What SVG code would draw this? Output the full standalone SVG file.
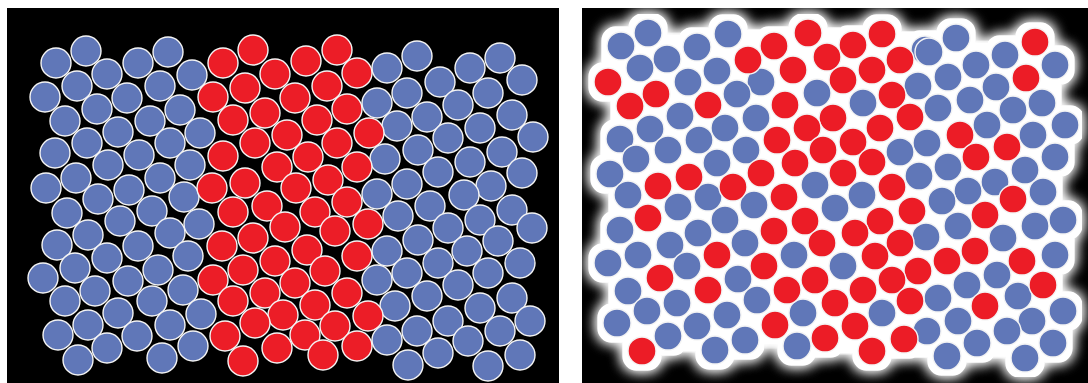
<svg xmlns="http://www.w3.org/2000/svg" width="1088" height="383" viewBox="0 0 1088 383">
<style>
.b{fill:#6077b8;stroke:#f4f4f4;stroke-width:1.4}
.r{fill:#ec1d27;stroke:#f4f4f4;stroke-width:1.4}
#left circle{r:15px}
#right circle{r:14px}
</style>
<defs>
<filter id="halo" filterUnits="userSpaceOnUse" x="582" y="8" width="506" height="375">
<feMorphology in="SourceAlpha" operator="dilate" radius="11" result="d0"/>
<feMorphology in="d0" operator="erode" radius="6" result="d"/>
<feFlood flood-color="#ffffff"/>
<feComposite in2="d" operator="in" result="w"/>
<feGaussianBlur in="w" stdDeviation="7" result="bl"/>
<feMerge><feMergeNode in="bl"/><feMergeNode in="bl"/><feMergeNode in="w"/><feMergeNode in="SourceGraphic"/></feMerge>
</filter>
</defs>
<rect width="1088" height="383" fill="#ffffff"/>
<rect x="7" y="8" width="552" height="375" fill="#000"/>
<rect x="582" y="8" width="506" height="375" fill="#000"/>
<g id="left">
<g class="b">
<circle cx="86" cy="51"/><circle cx="56" cy="63"/><circle cx="168" cy="52"/><circle cx="138" cy="63"/><circle cx="107" cy="74"/><circle cx="77" cy="86"/><circle cx="45" cy="97"/><circle cx="160" cy="86"/><circle cx="192" cy="75"/><circle cx="127" cy="98"/><circle cx="97" cy="109"/><circle cx="65" cy="121"/><circle cx="180" cy="110"/><circle cx="150" cy="121"/><circle cx="118" cy="132"/><circle cx="87" cy="143"/><circle cx="55" cy="153"/><circle cx="170" cy="143"/><circle cx="139" cy="155"/><circle cx="108" cy="165"/><circle cx="76" cy="178"/><circle cx="46" cy="188"/><circle cx="190" cy="165"/><circle cx="160" cy="178"/><circle cx="129" cy="190"/><circle cx="98" cy="199"/><circle cx="200" cy="133"/><circle cx="184" cy="197"/>
<circle cx="67" cy="213"/><circle cx="120" cy="221"/><circle cx="152" cy="211"/><circle cx="88" cy="235"/><circle cx="57" cy="245"/><circle cx="170" cy="233"/><circle cx="199" cy="224"/><circle cx="138" cy="246"/><circle cx="107" cy="258"/><circle cx="75" cy="268"/><circle cx="43" cy="278"/><circle cx="188" cy="256"/><circle cx="158" cy="270"/><circle cx="128" cy="281"/><circle cx="95" cy="291"/><circle cx="65" cy="301"/><circle cx="183" cy="290"/><circle cx="152" cy="301"/><circle cx="118" cy="313"/><circle cx="88" cy="325"/><circle cx="58" cy="335"/><circle cx="201" cy="314"/><circle cx="170" cy="325"/><circle cx="137" cy="336"/><circle cx="107" cy="348"/><circle cx="78" cy="360"/><circle cx="162" cy="358"/><circle cx="193" cy="346"/>
<circle cx="417" cy="56"/><circle cx="387" cy="68"/><circle cx="500" cy="58"/><circle cx="470" cy="68"/><circle cx="440" cy="82"/><circle cx="407" cy="93"/><circle cx="377" cy="103"/><circle cx="522" cy="80"/><circle cx="488" cy="93"/><circle cx="458" cy="105"/><circle cx="427" cy="117"/><circle cx="397" cy="126"/><circle cx="512" cy="115"/><circle cx="480" cy="128"/><circle cx="448" cy="138"/><circle cx="418" cy="150"/><circle cx="385" cy="159"/><circle cx="533" cy="137"/><circle cx="502" cy="152"/><circle cx="470" cy="162"/><circle cx="438" cy="172"/><circle cx="407" cy="184"/><circle cx="377" cy="194"/><circle cx="522" cy="173"/><circle cx="491" cy="186"/><circle cx="464" cy="195"/>
<circle cx="398" cy="216"/><circle cx="430" cy="206"/><circle cx="512" cy="210"/><circle cx="480" cy="220"/><circle cx="448" cy="228"/><circle cx="418" cy="240"/><circle cx="387" cy="251"/><circle cx="532" cy="228"/><circle cx="498" cy="241"/><circle cx="467" cy="251"/><circle cx="438" cy="263"/><circle cx="407" cy="273"/><circle cx="377" cy="280"/><circle cx="520" cy="263"/><circle cx="488" cy="273"/><circle cx="458" cy="285"/><circle cx="427" cy="296"/><circle cx="395" cy="306"/><circle cx="512" cy="298"/><circle cx="480" cy="308"/><circle cx="448" cy="321"/><circle cx="417" cy="331"/><circle cx="387" cy="340"/><circle cx="530" cy="321"/><circle cx="500" cy="331"/><circle cx="468" cy="341"/><circle cx="438" cy="353"/><circle cx="408" cy="365"/><circle cx="520" cy="355"/><circle cx="488" cy="366"/>
</g>
<g class="r">
<circle cx="253" cy="50"/><circle cx="223" cy="63"/><circle cx="337" cy="50"/><circle cx="306" cy="61"/><circle cx="275" cy="74"/><circle cx="245" cy="88"/><circle cx="213" cy="97"/><circle cx="357" cy="73"/><circle cx="327" cy="86"/><circle cx="295" cy="98"/><circle cx="265" cy="113"/><circle cx="233" cy="120"/><circle cx="347" cy="109"/><circle cx="317" cy="120"/><circle cx="287" cy="135"/><circle cx="255" cy="143"/><circle cx="223" cy="156"/><circle cx="369" cy="133"/><circle cx="337" cy="143"/><circle cx="308" cy="157"/><circle cx="277" cy="167"/><circle cx="245" cy="183"/><circle cx="212" cy="188"/><circle cx="357" cy="167"/><circle cx="328" cy="180"/><circle cx="296" cy="188"/>
<circle cx="233" cy="212"/><circle cx="267" cy="206"/><circle cx="315" cy="212"/><circle cx="347" cy="202"/><circle cx="285" cy="227"/><circle cx="253" cy="238"/><circle cx="222" cy="246"/><circle cx="335" cy="231"/><circle cx="368" cy="224"/><circle cx="307" cy="250"/><circle cx="275" cy="261"/><circle cx="243" cy="270"/><circle cx="213" cy="280"/><circle cx="357" cy="256"/><circle cx="325" cy="271"/><circle cx="295" cy="283"/><circle cx="265" cy="293"/><circle cx="233" cy="301"/><circle cx="347" cy="293"/><circle cx="315" cy="305"/><circle cx="283" cy="315"/><circle cx="255" cy="323"/><circle cx="225" cy="336"/><circle cx="368" cy="316"/><circle cx="335" cy="326"/><circle cx="305" cy="335"/><circle cx="277" cy="348"/><circle cx="243" cy="361"/><circle cx="357" cy="346"/><circle cx="323" cy="355"/>
</g>
</g>
<g id="right" filter="url(#halo)">
<g class="b">
<circle cx="648" cy="33"/><circle cx="621" cy="46"/><circle cx="728" cy="34"/><circle cx="697" cy="47"/><circle cx="667" cy="59"/><circle cx="640" cy="68"/><circle cx="717" cy="71"/><circle cx="688" cy="82"/><circle cx="761" cy="82"/><circle cx="737" cy="94"/><circle cx="680" cy="116"/><circle cx="650" cy="129"/><circle cx="620" cy="139"/><circle cx="756" cy="118"/><circle cx="725" cy="128"/><circle cx="699" cy="140"/><circle cx="668" cy="150"/><circle cx="636" cy="159"/><circle cx="610" cy="174"/><circle cx="746" cy="150"/><circle cx="717" cy="163"/><circle cx="628" cy="195"/><circle cx="708" cy="197"/><circle cx="678" cy="207"/>
<circle cx="925" cy="50"/><circle cx="817" cy="93"/><circle cx="918" cy="86"/><circle cx="863" cy="103"/><circle cx="938" cy="108"/><circle cx="927" cy="143"/><circle cx="900" cy="152"/><circle cx="919" cy="176"/><circle cx="815" cy="185"/><circle cx="862" cy="195"/><circle cx="754" cy="205"/>
<circle cx="956" cy="38"/><circle cx="929" cy="52"/><circle cx="1005" cy="55"/><circle cx="976" cy="65"/><circle cx="1055" cy="65"/><circle cx="948" cy="77"/><circle cx="996" cy="87"/><circle cx="970" cy="100"/><circle cx="1042" cy="103"/><circle cx="1013" cy="110"/><circle cx="1065" cy="125"/><circle cx="987" cy="125"/><circle cx="1033" cy="135"/><circle cx="1055" cy="157"/><circle cx="948" cy="167"/><circle cx="1025" cy="170"/><circle cx="995" cy="182"/><circle cx="968" cy="191"/><circle cx="1043" cy="192"/><circle cx="942" cy="201"/>
<circle cx="620" cy="230"/><circle cx="725" cy="220"/><circle cx="698" cy="233"/><circle cx="670" cy="245"/><circle cx="745" cy="243"/><circle cx="638" cy="255"/><circle cx="608" cy="263"/><circle cx="687" cy="266"/><circle cx="738" cy="279"/><circle cx="628" cy="291"/><circle cx="757" cy="300"/><circle cx="677" cy="303"/><circle cx="647" cy="311"/><circle cx="727" cy="315"/><circle cx="617" cy="323"/><circle cx="697" cy="326"/><circle cx="668" cy="336"/><circle cx="745" cy="340"/><circle cx="715" cy="350"/>
<circle cx="835" cy="208"/><circle cx="794" cy="255"/><circle cx="926" cy="237"/><circle cx="843" cy="266"/><circle cx="882" cy="313"/><circle cx="803" cy="313"/><circle cx="797" cy="346"/><circle cx="927" cy="331"/>
<circle cx="958" cy="226"/><circle cx="1035" cy="226"/><circle cx="1063" cy="220"/><circle cx="1003" cy="238"/><circle cx="1055" cy="255"/><circle cx="997" cy="275"/><circle cx="967" cy="285"/><circle cx="1018" cy="296"/><circle cx="938" cy="298"/><circle cx="1063" cy="311"/><circle cx="958" cy="321"/><circle cx="1032" cy="321"/><circle cx="1007" cy="331"/><circle cx="977" cy="343"/><circle cx="1053" cy="343"/><circle cx="947" cy="356"/><circle cx="1025" cy="358"/>
</g>
<g class="r">
<circle cx="608" cy="82"/><circle cx="748" cy="60"/><circle cx="656" cy="94"/><circle cx="630" cy="106"/><circle cx="708" cy="105"/><circle cx="689" cy="177"/><circle cx="658" cy="186"/><circle cx="761" cy="173"/><circle cx="733" cy="187"/><circle cx="648" cy="218"/>
<circle cx="808" cy="33"/><circle cx="882" cy="34"/><circle cx="774" cy="46"/><circle cx="853" cy="45"/><circle cx="827" cy="57"/><circle cx="900" cy="60"/><circle cx="793" cy="70"/><circle cx="872" cy="70"/><circle cx="843" cy="80"/><circle cx="892" cy="95"/><circle cx="785" cy="105"/><circle cx="833" cy="118"/><circle cx="910" cy="117"/><circle cx="807" cy="128"/><circle cx="880" cy="128"/><circle cx="777" cy="140"/><circle cx="853" cy="142"/><circle cx="823" cy="150"/><circle cx="795" cy="163"/><circle cx="872" cy="162"/><circle cx="843" cy="173"/><circle cx="892" cy="187"/><circle cx="784" cy="197"/>
<circle cx="1035" cy="42"/><circle cx="1026" cy="78"/><circle cx="960" cy="135"/><circle cx="1007" cy="147"/><circle cx="976" cy="157"/><circle cx="1013" cy="199"/>
<circle cx="717" cy="255"/><circle cx="764" cy="266"/><circle cx="660" cy="278"/><circle cx="708" cy="290"/><circle cx="642" cy="351"/>
<circle cx="912" cy="211"/><circle cx="805" cy="221"/><circle cx="880" cy="221"/><circle cx="774" cy="231"/><circle cx="855" cy="233"/><circle cx="822" cy="243"/><circle cx="900" cy="243"/><circle cx="875" cy="256"/><circle cx="918" cy="271"/><circle cx="815" cy="280"/><circle cx="892" cy="280"/><circle cx="787" cy="290"/><circle cx="863" cy="290"/><circle cx="835" cy="303"/><circle cx="910" cy="301"/><circle cx="775" cy="325"/><circle cx="855" cy="326"/><circle cx="825" cy="338"/><circle cx="904" cy="339"/><circle cx="872" cy="351"/>
<circle cx="985" cy="215"/><circle cx="975" cy="251"/><circle cx="947" cy="261"/><circle cx="1022" cy="261"/><circle cx="1043" cy="285"/><circle cx="985" cy="306"/>
</g>
</g>
</svg>
